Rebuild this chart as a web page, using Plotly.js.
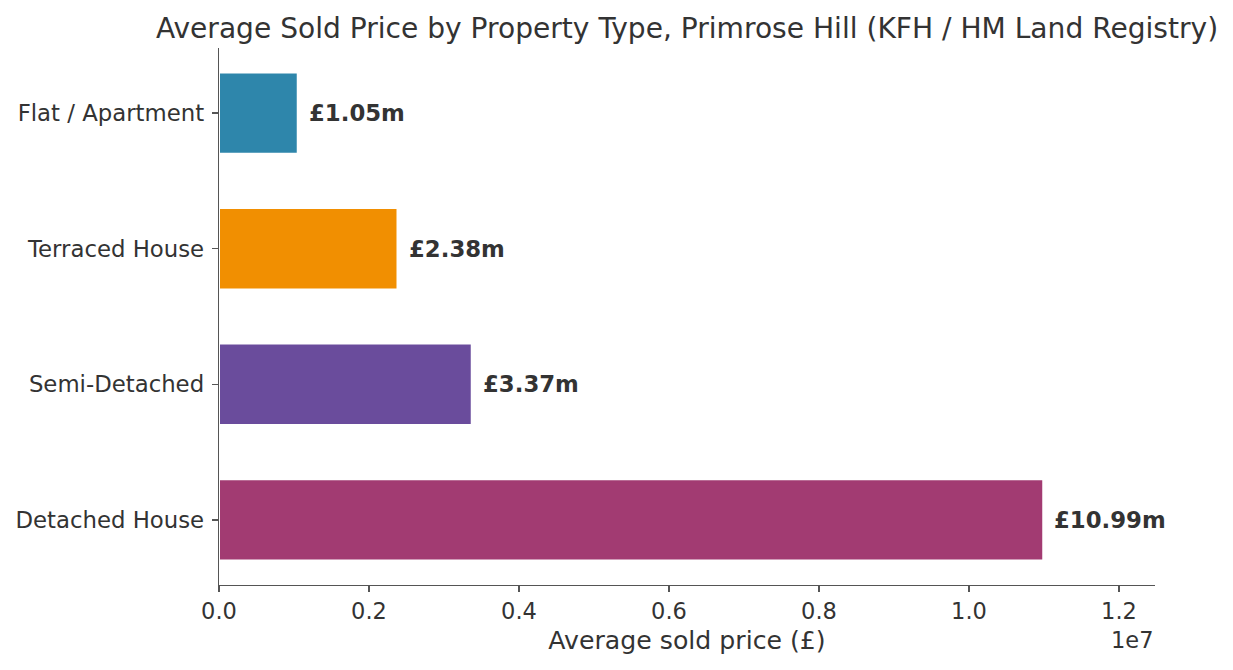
<!DOCTYPE html>
<html>
<head>
<meta charset="utf-8">
<script src="https://cdn.plot.ly/plotly-3.0.1.min.js"></script>
<style>html,body{margin:0;padding:0;background:#fff;}#chart{width:1233px;height:670px;}</style>
</head>
<body>
<div id="chart"></div>
<script>
const categories = ["Detached House", "Semi-Detached", "Terraced House", "Flat / Apartment"];
const prices = [10990000, 3370000, 2380000, 1050000];
const priceLabels = ["£10.99m", "£3.37m", "£2.38m", "£1.05m"];
const barColors = ["#A23B72", "#6A4C9C", "#F18F01", "#2E86AB"];
const xTickVals = [0, 2000000, 4000000, 6000000, 8000000, 10000000, 12000000];
const xTickText = ["0.0", "0.2", "0.4", "0.6", "0.8", "1.0", "1.2"];

const font = "DejaVu Sans, sans-serif";
const textColor = "#333333";

const trace = {
  type: "bar",
  orientation: "h",
  y: categories.map((c, i) => i),
  x: prices,
  width: 0.6,
  marker: { color: barColors, line: { color: "#ffffff", width: 2 } },
  hoverinfo: "none"
};

const annotations = prices.map((v, i) => ({
  x: v, y: i, xref: "x", yref: "y",
  text: "<b>" + priceLabels[i] + "</b>",
  showarrow: false, xanchor: "left", yanchor: "middle", xshift: 9,
  font: { family: font, size: 22.8, color: textColor }
}));
annotations.push({
  x: 1, y: 0, xref: "paper", yref: "paper", text: "1e7",
  showarrow: false, xanchor: "right", yanchor: "middle", yshift: -55,
  font: { family: font, size: 22.5, color: textColor }
});

const layout = {
  width: 1233, height: 670,
  margin: { l: 219, r: 78, t: 48, b: 85 },
  paper_bgcolor: "#ffffff", plot_bgcolor: "#ffffff",
  font: { family: font, color: textColor, size: 22.5 },
  title: { text: "Average Sold Price by Property Type, Primrose Hill (KFH / HM Land Registry)",
           x: 0.5, xref: "paper", y: 0.958, yanchor: "middle", yref: "container",
           font: { family: font, size: 28.1, color: textColor } },
  xaxis: {
    range: [0, 12480000], tickvals: xTickVals, ticktext: xTickText,
    showgrid: false, zeroline: false, showline: true, linecolor: "#555555", linewidth: 1.3,
    ticks: "outside", ticklen: 6, tickwidth: 1.3, tickcolor: "#555555",
    tickfont: { family: font, size: 22.5, color: textColor },
    title: { text: "Average sold price (£)", font: { family: font, size: 25.2, color: textColor }, standoff: 8 }
  },
  yaxis: {
    range: [-0.48, 3.48], tickvals: [0, 1, 2, 3], ticktext: categories,
    showgrid: false, zeroline: false, showline: true, linecolor: "#555555", linewidth: 1.3,
    ticks: "outside", ticklen: 6, tickwidth: 1.3, tickcolor: "#555555",
    ticklabelstandoff: 3,
    tickfont: { family: font, size: 22.8, color: textColor }
  },
  annotations: annotations,
  showlegend: false,
  bargap: 0
};

Plotly.newPlot("chart", [trace], layout, { displayModeBar: false, staticPlot: true });
</script>
</body>
</html>
